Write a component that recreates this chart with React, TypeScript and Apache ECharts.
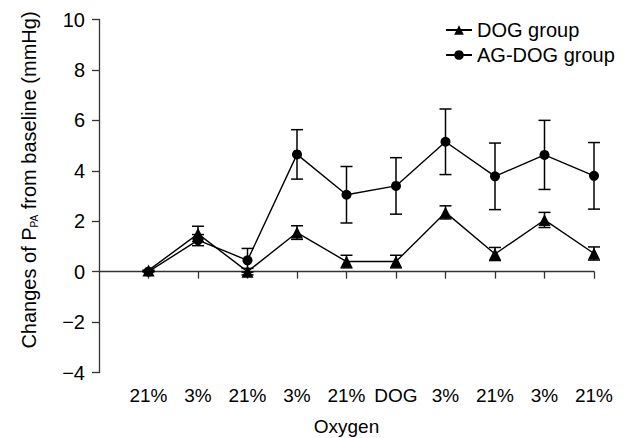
import React, { useEffect, useRef } from "react";
import * as echarts from "echarts";

// Oxygen condition at each measurement step (first slot is the axis origin)
const categories = ["", "21%", "3%", "21%", "3%", "21%", "DOG", "3%", "21%", "3%", "21%"];

// Mean change of P_PA from baseline (mmHg)
const dogMean = [0.05, 1.5, 0.0, 1.55, 0.4, 0.4, 2.35, 0.7, 2.05, 0.72];
const dogErr = [0.0, 0.3, 0.13, 0.27, 0.25, 0.25, 0.26, 0.26, 0.3, 0.26];
const agMean = [0.0, 1.25, 0.45, 4.65, 3.05, 3.4, 5.15, 3.78, 4.63, 3.8];
const agErr = [0.0, 0.22, 0.47, 0.98, 1.12, 1.12, 1.3, 1.32, 1.37, 1.32];

const yTicks = { min: -4, max: 10, interval: 2 };

const FONT = "'Liberation Sans', Arial, sans-serif";
const AXIS_COLOR = "#333";

function withGap(values: number[]) {
  return ["-", ...values];
}

function errorRows(mean: number[], err: number[]) {
  return mean.map((m, i) => [i + 1, m - err[i], m + err[i]]);
}

function errorBarSeries(mean: number[], err: number[]) {
  return {
    type: "custom",
    silent: true,
    z: 1,
    encode: { x: 0, y: [1, 2] },
    data: errorRows(mean, err),
    renderItem: (params: any, api: any) => {
      const x = api.value(0);
      const lo = api.coord([x, api.value(1)]);
      const hi = api.coord([x, api.value(2)]);
      const w = 6;
      const style = { stroke: "#000", lineWidth: 1.5 };
      return {
        type: "group",
        children: [
          { type: "line", shape: { x1: lo[0], y1: lo[1], x2: hi[0], y2: hi[1] }, style },
          { type: "line", shape: { x1: lo[0] - w, y1: lo[1], x2: lo[0] + w, y2: lo[1] }, style },
          { type: "line", shape: { x1: hi[0] - w, y1: hi[1], x2: hi[0] + w, y2: hi[1] }, style },
        ],
      };
    },
  };
}

export default function App() {
  const ref = useRef<HTMLDivElement>(null);

  useEffect(() => {
    if (!ref.current) return;
    const chart = echarts.init(ref.current, undefined, { renderer: "svg" });
    chart.setOption({
      animation: false,
      backgroundColor: "#fff",
      textStyle: { fontFamily: FONT, color: "#000" },
      grid: {
        left: 99,
        right: 44,
        top: 19.5,
        bottom: 65.5,
        containLabel: false,
        outerBoundsMode: "none",
      },
      legend: {
        orient: "vertical",
        left: 445,
        top: 20,
        padding: 0,
        itemWidth: 26,
        itemHeight: 12,
        itemGap: 5,
        textStyle: { fontFamily: FONT, fontSize: 20, color: "#000" },
        data: ["DOG group", "AG-DOG group"],
      },
      xAxis: {
        type: "category",
        data: categories,
        boundaryGap: false,
        name: "Oxygen",
        nameLocation: "middle",
        nameGap: 44,
        nameTextStyle: { fontFamily: FONT, fontSize: 19, color: "#000" },
        axisLine: { lineStyle: { color: AXIS_COLOR, width: 1.3 } },
        axisTick: {
          show: true,
          length: 7,
          interval: (index: number) => index !== 0,
          lineStyle: { color: AXIS_COLOR, width: 1.3 },
        },
        axisLabel: {
          interval: 0,
          margin: 13,
          fontFamily: FONT,
          fontSize: 19,
          color: "#000",
        },
        splitLine: { show: false },
      },
      yAxis: {
        type: "value",
        min: yTicks.min,
        max: yTicks.max,
        interval: yTicks.interval,
        axisLine: { show: true, lineStyle: { color: AXIS_COLOR, width: 1.3 } },
        axisTick: { show: true, length: 7, lineStyle: { color: AXIS_COLOR, width: 1.3 } },
        axisLabel: {
          margin: 14,
          fontFamily: FONT,
          fontSize: 20,
          color: "#000",
          formatter: (v: number) => (v < 0 ? "\u2212" + Math.abs(v) : String(v)),
        },
        splitLine: { show: false },
      },
      graphic: [
        {
          type: "text",
          x: 29,
          y: 180,
          rotation: Math.PI / 2,
          style: {
            text: "Changes of P{sub|PA} from baseline (mmHg)",
            fontFamily: FONT,
            fontSize: 20,
            fill: "#000",
            align: "center",
            verticalAlign: "middle",
            rich: {
              sub: { fontFamily: FONT, fontSize: 10, fill: "#000", verticalAlign: "bottom", lineHeight: 10 },
            },
          },
        },
      ],
      series: [
        errorBarSeries(dogMean, dogErr),
        errorBarSeries(agMean, agErr),
        {
          name: "DOG group",
          type: "line",
          z: 3,
          data: withGap(dogMean),
          symbol: "triangle",
          symbolSize: 12,
          itemStyle: { color: "#000" },
          lineStyle: { color: "#000", width: 1.4 },
        },
        {
          name: "AG-DOG group",
          type: "line",
          z: 3,
          data: withGap(agMean),
          symbol: "circle",
          symbolSize: 10,
          itemStyle: { color: "#000" },
          lineStyle: { color: "#000", width: 1.4 },
        },
      ],
    });
    return () => chart.dispose();
  }, []);

  return (
    <div
      ref={ref}
      style={{ position: "fixed", left: 0, top: 0, width: 638, height: 438, background: "#fff" }}
    />
  );
}
